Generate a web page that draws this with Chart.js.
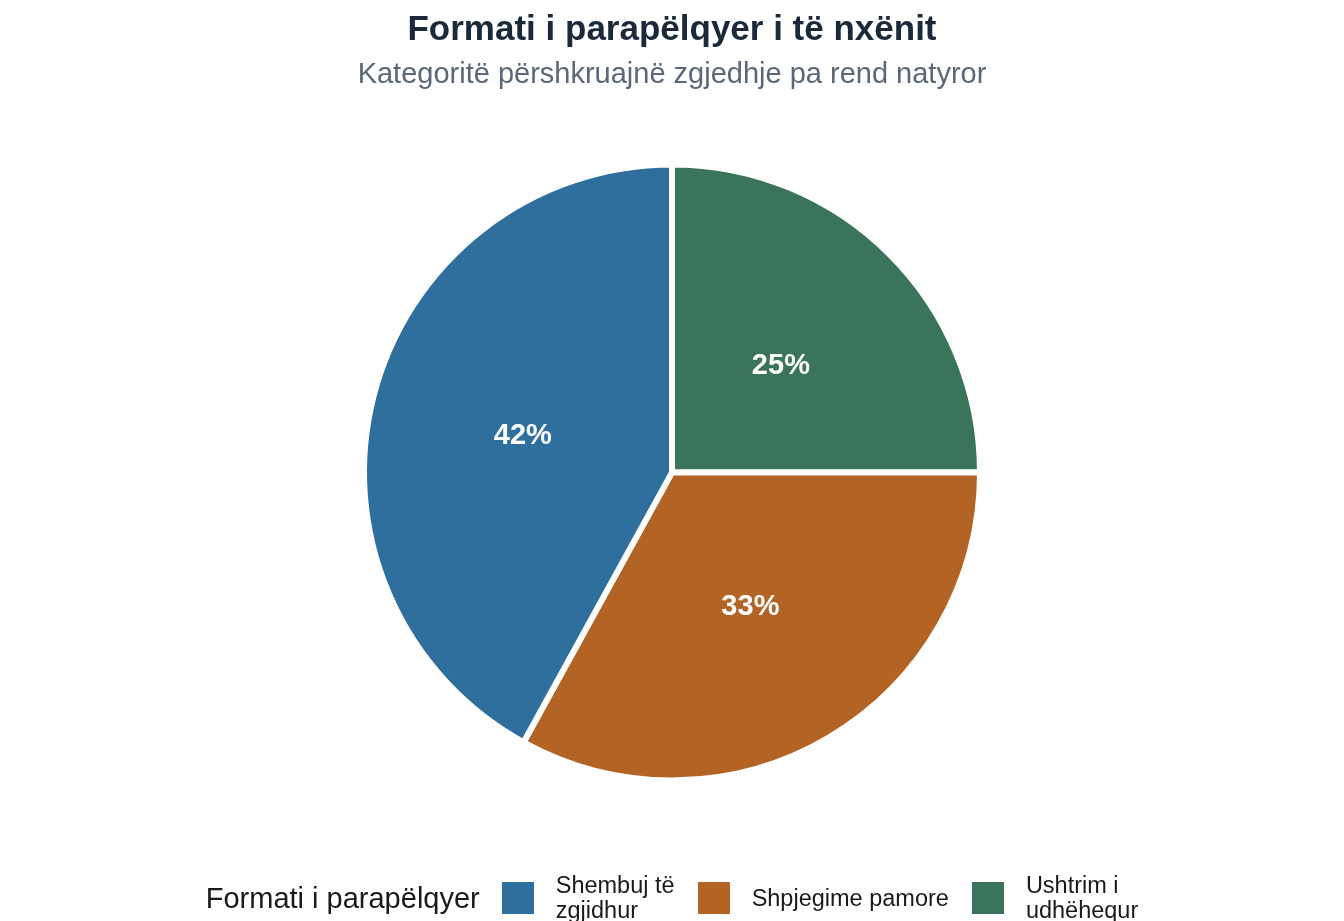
<!DOCTYPE html>
<html>
<head>
<meta charset="utf-8">
<script src="https://cdn.jsdelivr.net/npm/chart.js@4.4.1/dist/chart.umd.min.js"></script>
<style>
  html, body { margin: 0; padding: 0; background: #fff; }
  #wrap { position: relative; width: 1344px; height: 921px; overflow: hidden; }
  #legend {
    position: absolute; left: 0; right: 0; top: 872px; height: 52px;
    display: flex; align-items: center; justify-content: center;
    font-family: "Liberation Sans", Arial, sans-serif; color: #1a1a1a;
  }
  #legend .ttl { font-size: 29px; margin-right: 22px; }
  #legend .item { display: flex; align-items: center; margin-right: 23px; }
  #legend .item:last-child { margin-right: 0; }
  #legend .sw { width: 32px; height: 32px; margin-right: 22px; flex: none; }
  #legend .lbl { font-size: 23.5px; line-height: 25px; white-space: pre-line; }
</style>
</head>
<body>
<div id="wrap">
  <canvas id="grafica" width="1344" height="921"></canvas>
  <div id="legend"></div>
</div>
<script>
const categories = ["Ushtrim i udhëhequr", "Shpjegime pamore", "Shembuj të zgjidhur"];
const shares = [25, 33, 42];
const colors = ["#3A745A", "#B36324", "#2F6F9E"];
// legend text as wrapped in the original
const legendText = ["Ushtrim i\nudhëhequr", "Shpjegime pamore", "Shembuj të\nzgjidhur"];

const ctx = document.getElementById("grafica");

const sliceLabels = {
  id: "sliceLabels",
  afterDatasetsDraw(chart) {
    const c = chart.ctx;
    const meta = chart.getDatasetMeta(0);
    c.save();
    c.font = "bold 29px 'Liberation Sans', Arial, sans-serif";
    c.fillStyle = "#ffffff";
    c.textAlign = "center";
    c.textBaseline = "middle";
    meta.data.forEach((arc, i) => {
      const p = arc.getCenterPoint();
      c.fillText(shares[i] + "%", p.x, p.y + 2);
    });
    c.restore();
  }
};

new Chart(ctx, {
  type: "pie",
  data: {
    labels: categories,
    datasets: [{
      data: shares,
      backgroundColor: colors,
      borderColor: "#ffffff",
      borderWidth: 6
    }]
  },
  options: {
    responsive: false,
    animation: false,
    radius: 308,
    layout: { padding: { bottom: 77 } },
    plugins: {
      legend: { display: false },
      tooltip: { enabled: false },
      title: {
        display: true,
        text: "Formati i parapëlqyer i të nxënit",
        color: "#1b2a3a",
        font: { family: "'Liberation Sans', Arial, sans-serif", size: 35, weight: "bold" },
        padding: { top: 9, bottom: 7 }
      },
      subtitle: {
        display: true,
        text: "Kategoritë përshkruajnë zgjedhje pa rend natyror",
        color: "#5b6878",
        font: { family: "'Liberation Sans', Arial, sans-serif", size: 29 },
        padding: { bottom: 8 }
      }
    }
  },
  plugins: [sliceLabels]
});

// legend in the order of the original: blue, orange, green
const legend = document.getElementById("legend");
legend.innerHTML = '<span class="ttl">Formati i parapëlqyer</span>';
for (let i = categories.length - 1; i >= 0; i--) {
  const item = document.createElement("div");
  item.className = "item";
  item.innerHTML = '<span class="sw" style="background:' + colors[i] + '"></span>' +
    '<span class="lbl">' + legendText[i] + '</span>';
  legend.appendChild(item);
}
</script>
</body>
</html>
